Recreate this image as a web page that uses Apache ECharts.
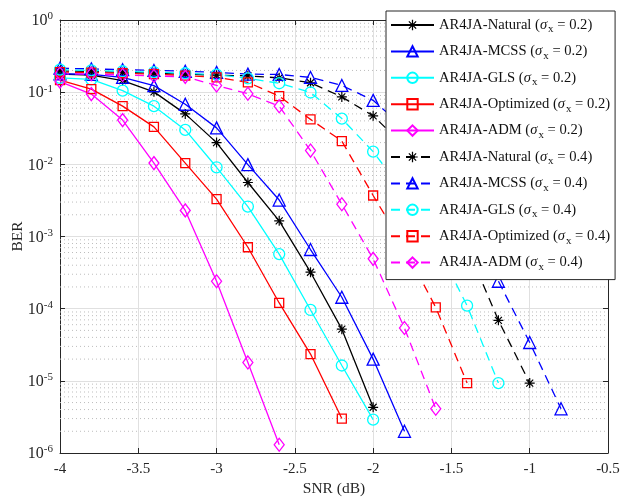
<!DOCTYPE html>
<html>
<head>
<meta charset="utf-8">
<script src="https://cdn.jsdelivr.net/npm/echarts@6/dist/echarts.min.js"></script>
<style>html,body{margin:0;padding:0;background:#fff;}#c{width:620px;height:500px;}</style>
</head>
<body>
<div id="c"></div>
<script>
// SNR grid (dB)
var snr = [-4, -3.8, -3.6, -3.4, -3.2, -3.0, -2.8, -2.6, -2.4, -2.2, -2.0, -1.8, -1.6, -1.4, -1.2, -1.0, -0.8];
var xTicks = [-4, -3.5, -3, -2.5, -2, -1.5, -1, -0.5];
var yTicks = [1e-6, 1e-5, 1e-4, 1e-3, 1e-2, 1e-1, 1];

// sigma_x = 0.2 (solid)
var natural02 = [0.178, 0.172, 0.145, 0.101, 0.050, 0.020, 0.0056, 0.00165, 3.2e-4, 5.2e-5, 4.3e-6];
var mcss02    = [0.18, 0.176, 0.16, 0.123, 0.068, 0.032, 0.0099, 0.0032, 6.6e-4, 1.44e-4, 2.0e-5, 2.0e-6];
var gls02     = [0.158, 0.15, 0.105, 0.064, 0.030, 0.0091, 0.0026, 5.7e-4, 9.6e-5, 1.63e-5, 2.9e-6];
var opt02     = [0.147, 0.11, 0.064, 0.033, 0.0104, 0.0033, 7.1e-4, 1.2e-4, 2.35e-5, 3.0e-6];
var adm02     = [0.14, 0.094, 0.041, 0.0104, 0.0023, 2.4e-4, 1.8e-5, 1.3e-6];

// sigma_x = 0.4 (dashed)
var natural04 = [0.197, 0.193, 0.188, 0.183, 0.178, 0.172, 0.168, 0.158, 0.135, 0.086, 0.047, 0.018, 0.0045, 7.2e-4, 6.9e-5, 9.3e-6];
var mcss04    = [0.215, 0.21, 0.205, 0.2, 0.195, 0.188, 0.178, 0.176, 0.16, 0.124, 0.077, 0.032, 0.009, 0.0018, 2.4e-4, 3.4e-5, 4.1e-6];
var gls04     = [0.205, 0.2, 0.195, 0.19, 0.183, 0.175, 0.155, 0.133, 0.099, 0.043, 0.015, 0.004, 8e-4, 1.1e-4, 9.3e-6];
var opt04     = [0.19, 0.187, 0.183, 0.178, 0.17, 0.16, 0.137, 0.088, 0.042, 0.021, 0.0037, 7e-4, 1.04e-4, 9.3e-6];
var adm04     = [0.18, 0.178, 0.173, 0.168, 0.163, 0.124, 0.095, 0.064, 0.0155, 0.0028, 4.9e-4, 5.4e-5, 4.1e-6];

var minorGrid = [];
for (var e = -6; e < 0; e++) { for (var m = 2; m <= 9; m++) minorGrid.push(m * Math.pow(10, e)); }

var FONT = 'Liberation Serif';
var STAR = 'path://M-0.6,-5L0.6,-5L0.6,5L-0.6,5Z M-5,-0.6L5,-0.6L5,0.6L-5,0.6Z M-3.08,-3.92L3.92,3.08L3.08,3.92L-3.92,-3.08Z M3.08,-3.92L3.92,-3.08L-3.08,3.92L-3.92,3.08Z';

var defs = [
  {label: 'AR4JA-Natural', s: '0.2', v: natural02, c: '#000000', sym: STAR, size: 10, dash: false},
  {label: 'AR4JA-MCSS', s: '0.2', v: mcss02, c: '#0000ff', sym: 'triangle', size: 12, dash: false},
  {label: 'AR4JA-GLS', s: '0.2', v: gls02, c: '#00ffff', sym: 'circle', size: 11, dash: false},
  {label: 'AR4JA-Optimized', s: '0.2', v: opt02, c: '#ff0000', sym: 'rect', size: 9, dash: false},
  {label: 'AR4JA-ADM', s: '0.2', v: adm02, c: '#ff00ff', sym: 'diamond', size: [10, 13], dash: false},
  {label: 'AR4JA-Natural', s: '0.4', v: natural04, c: '#000000', sym: STAR, size: 10, dash: true},
  {label: 'AR4JA-MCSS', s: '0.4', v: mcss04, c: '#0000ff', sym: 'triangle', size: 12, dash: true},
  {label: 'AR4JA-GLS', s: '0.4', v: gls04, c: '#00ffff', sym: 'circle', size: 11, dash: true},
  {label: 'AR4JA-Optimized', s: '0.4', v: opt04, c: '#ff0000', sym: 'rect', size: 9, dash: true},
  {label: 'AR4JA-ADM', s: '0.4', v: adm04, c: '#ff00ff', sym: 'diamond', size: [10, 13], dash: true}
];

var series = defs.map(function (d) {
  var isStar = d.sym === STAR;
  return {
    name: d.label + ' (σx = ' + d.s + ')',
    type: 'line',
    data: d.v.map(function (y, i) { return [snr[i], y]; }),
    symbol: d.sym,
    symbolSize: d.size,
    showAllSymbol: true,
    lineStyle: {color: d.c, width: 1.3, type: d.dash ? [9, 6] : 'solid'},
    itemStyle: isStar ? {color: d.c, borderWidth: 0} : {color: 'rgba(255,255,255,0)', borderColor: d.c, borderWidth: 1.3},
    emphasis: {disabled: true},
    animation: false,
    z: 3
  };
});

// dotted minor grid lines at 2..9 x 10^k
minorGrid.forEach(function (v) {
  series.push({
    type: 'line', silent: true, animation: false, symbol: 'none',
    data: [[xTicks[0], v], [xTicks[xTicks.length - 1], v]],
    lineStyle: {color: '#bdbdbd', type: [1, 3], width: 1},
    emphasis: {disabled: true},
    z: 1
  });
});

var axisCol = '#262626';
var chart = echarts.init(document.getElementById('c'), null, {renderer: 'canvas'});
chart.setOption({
  backgroundColor: '#ffffff',
  animation: false,
  grid: {left: 60, right: 12, top: 20, bottom: 47, show: false, containLabel: false, outerBoundsMode: 'none'},
  xAxis: [{
    type: 'value', min: -4, max: -0.5, interval: 0.5,
    name: 'SNR (dB)', nameLocation: 'middle', nameGap: 28, nameMoveOverlap: false,
    nameTextStyle: {fontFamily: FONT, fontSize: 15.5, color: axisCol},
    axisLine: {show: true, onZero: false, lineStyle: {color: axisCol, width: 1}},
    axisTick: {show: true, inside: true, length: 5, lineStyle: {color: axisCol}},
    axisLabel: {fontFamily: FONT, fontSize: 15, color: axisCol, margin: 9,
      formatter: function (v) { return xTicks.indexOf(v) >= 0 ? String(v) : ''; }},
    splitLine: {show: true, lineStyle: {color: '#e0e0e0', width: 1}}
  }, {
    type: 'value', min: -4, max: -0.5, interval: 0.5, position: 'top',
    axisLine: {show: true, onZero: false, lineStyle: {color: axisCol, width: 1}},
    axisTick: {show: true, inside: true, length: 5, lineStyle: {color: axisCol}},
    axisLabel: {show: false}, splitLine: {show: false}
  }],
  yAxis: [{
    type: 'log', logBase: 10, min: 1e-6, max: 1,
    name: 'BER', nameLocation: 'middle', nameGap: 34, nameRotate: 90, nameMoveOverlap: false,
    nameTextStyle: {fontFamily: FONT, fontSize: 15.5, color: axisCol},
    axisLine: {show: true, onZero: false, lineStyle: {color: axisCol, width: 1}},
    axisTick: {show: true, inside: true, length: 5, lineStyle: {color: axisCol}},
    axisLabel: {color: axisCol, margin: 7,
      formatter: function (v) {
        var ex = Math.round(Math.log10(v));
        return '{b|10}{e|' + ex + '}';
      },
      rich: {
        b: {fontFamily: FONT, fontSize: 16, color: axisCol, verticalAlign: 'bottom', lineHeight: 18},
        e: {fontFamily: FONT, fontSize: 11, color: axisCol, verticalAlign: 'top', lineHeight: 18, padding: [0, 0, 8, 0]}
      }
    },
    splitLine: {show: true, lineStyle: {color: '#e0e0e0', width: 1}}
  }, {
    type: 'log', logBase: 10, min: 1e-6, max: 1, position: 'right',
    axisLine: {show: true, onZero: false, lineStyle: {color: axisCol, width: 1}},
    axisTick: {show: true, inside: true, length: 5, lineStyle: {color: axisCol}},
    axisLabel: {show: false}, splitLine: {show: false}
  }],
  legend: {
    show: true, orient: 'vertical', left: 386, top: 11,
    padding: [4, 5, 7, 4],
    itemWidth: 43, itemHeight: 13, itemGap: 6.4,
    backgroundColor: '#ffffff', borderColor: axisCol, borderWidth: 1,
    selectedMode: false,
    formatter: function (name) {
      var m = name.match(/^(.*) \(σx = (.*)\)$/);
      return '{a|' + m[1] + ' (}{s|σ}{x|x}{a| = ' + m[2] + ')}';
    },
    textStyle: {
      padding: [0, 0, 0, 0],
      rich: {
        a: {fontFamily: FONT, fontSize: 14.6, color: '#111', lineHeight: 20, verticalAlign: 'middle'},
        s: {fontFamily: FONT, fontSize: 14.6, fontStyle: 'italic', color: '#111', lineHeight: 20, verticalAlign: 'middle'},
        x: {fontFamily: FONT, fontSize: 11, color: '#111', lineHeight: 20, verticalAlign: 'bottom', padding: [9, 0, 0, 1]}
      }
    },
    data: series.slice(0, 10).map(function (s) { return s.name; })
  },
  series: series
});
</script>
</body>
</html>
